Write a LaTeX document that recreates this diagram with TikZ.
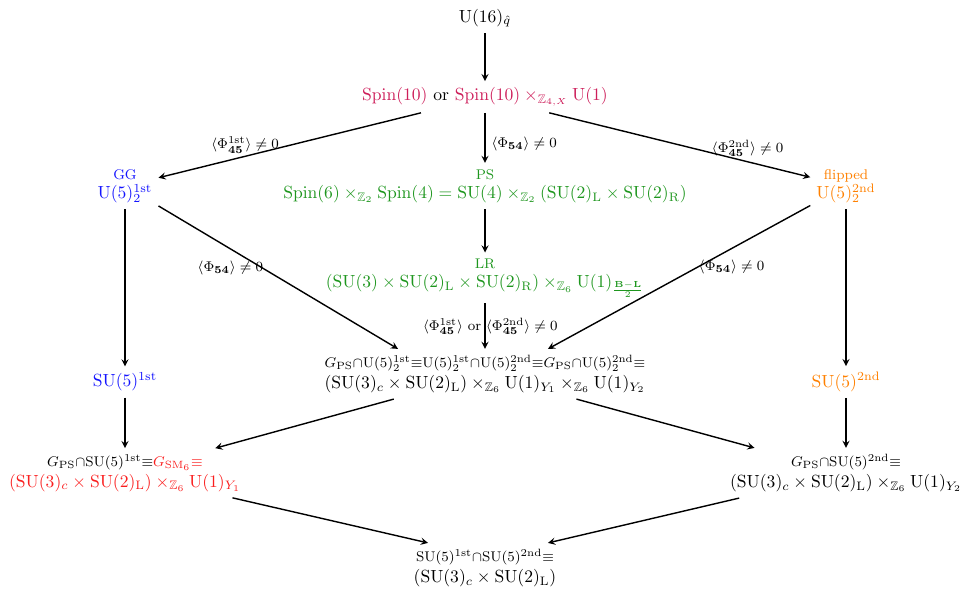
\documentclass[tikz,border=0pt]{standalone}
\usepackage{amsmath,amssymb}
\definecolor{spincol}{RGB}{205,30,90}
\definecolor{pscol}{RGB}{30,150,30}
\definecolor{ggcol}{RGB}{20,20,255}
\definecolor{flcol}{RGB}{255,128,0}
\definecolor{smcol}{RGB}{250,30,30}
\begin{document}
\begin{tikzpicture}[x=0.02cm,y=-0.02cm,every node/.style={align=center},
    lbl/.style={font=\footnotesize}]
      \useasboundingbox (0,0) rectangle (970,598);
      \draw
        (485,18) node (u16){$\mathrm{U}(16)_{\hat q}$}
        (485,97) node (spin){\textcolor{spincol}{$\mathrm{Spin}(10)$} or \textcolor{spincol}{$\mathrm{Spin}(10)\times_{\mathbb{Z}_{4,X}}\mathrm{U}(1)$}}
        (485,186) node[pscol] (ps){{\footnotesize PS}\\[-1pt] $\mathrm{Spin}(6)\times_{\mathbb{Z}_2}\mathrm{Spin}(4)=\mathrm{SU}(4)\times_{\mathbb{Z}_2}(\mathrm{SU}(2)_{\mathrm{L}}\times\mathrm{SU}(2)_{\mathrm{R}})$}
        (125,186) node[ggcol] (gg){{\footnotesize GG}\\[-1pt] $\mathrm{U}(5)_2^{\mathrm{1st}}$}
        (846,186) node[flcol] (fl){{\footnotesize flipped}\\[-1pt] $\mathrm{U}(5)_2^{\mathrm{2nd}}$}
        (485,278) node[pscol] (lr){{\footnotesize LR}\\[-1pt] $(\mathrm{SU}(3)\times\mathrm{SU}(2)_{\mathrm{L}}\times\mathrm{SU}(2)_{\mathrm{R}})\times_{\mathbb{Z}_6}\mathrm{U}(1)_{\frac{\mathbf{B-L}}{2}}$}
        (485,374) node (mid){{\footnotesize $G_{\mathrm{PS}}{\cap}\mathrm{U}(5)_2^{\mathrm{1st}}{\equiv}\mathrm{U}(5)_2^{\mathrm{1st}}{\cap}\mathrm{U}(5)_2^{\mathrm{2nd}}{\equiv}G_{\mathrm{PS}}{\cap}\mathrm{U}(5)_2^{\mathrm{2nd}}{\equiv}$}\\ $(\mathrm{SU}(3)_c\times\mathrm{SU}(2)_{\mathrm{L}})\times_{\mathbb{Z}_6}\mathrm{U}(1)_{Y_1}\times_{\mathbb{Z}_6}\mathrm{U}(1)_{Y_2}$}
        (125,382) node[ggcol] (su1){$\mathrm{SU}(5)^{\mathrm{1st}}$}
        (846,382) node[flcol] (su2){$\mathrm{SU}(5)^{\mathrm{2nd}}$}
        (125,473) node (sm1){{\footnotesize $G_{\mathrm{PS}}{\cap}\mathrm{SU}(5)^{\mathrm{1st}}{\equiv}$\textcolor{smcol}{$G_{\mathrm{SM}_6}{\equiv}$}}\\ \textcolor{smcol}{$(\mathrm{SU}(3)_c\times\mathrm{SU}(2)_{\mathrm{L}})\times_{\mathbb{Z}_6}\mathrm{U}(1)_{Y_1}$}}
        (846,473) node (sm2){{\footnotesize $G_{\mathrm{PS}}{\cap}\mathrm{SU}(5)^{\mathrm{2nd}}{\equiv}$}\\ $(\mathrm{SU}(3)_c\times\mathrm{SU}(2)_{\mathrm{L}})\times_{\mathbb{Z}_6}\mathrm{U}(1)_{Y_2}$}
        (485,568) node (bot){{\footnotesize $\mathrm{SU}(5)^{\mathrm{1st}}{\cap}\mathrm{SU}(5)^{\mathrm{2nd}}{\equiv}$}\\ $(\mathrm{SU}(3)_c\times\mathrm{SU}(2)_{\mathrm{L}})$};
      \begin{scope}[->,>=stealth,thick]
        \draw (u16) to (spin);
        \draw (spin) to node[lbl,right,pos=0.62] {$\langle\Phi_{\mathbf{54}}\rangle\neq0$} (ps);
        \draw (spin) to node[lbl,above,pos=0.67,yshift=-2pt] {$\langle\Phi^{\mathrm{1st}}_{\mathbf{45}}\rangle\neq0$} (gg);
        \draw (spin) to node[lbl,above,pos=0.76,yshift=-1pt] {$\langle\Phi^{\mathrm{2nd}}_{\mathbf{45}}\rangle\neq0$} (fl);
        \draw (ps) to (lr);
        \draw (lr) to node[lbl,xshift=3pt] {$\langle\Phi^{\mathrm{1st}}_{\mathbf{45}}\rangle$ or $\langle\Phi^{\mathrm{2nd}}_{\mathbf{45}}\rangle\neq0$} (mid);
        \draw (gg) to node[lbl,below,pos=0.3,yshift=-3pt] {$\langle\Phi_{\mathbf{54}}\rangle\neq0$} ([xshift=-1.74cm]mid.north);
        \draw (fl) to node[lbl,below,pos=0.3,yshift=-3pt] {$\langle\Phi_{\mathbf{54}}\rangle\neq0$} ([xshift=1.26cm]mid.north);
        \draw (gg) to (su1);
        \draw (fl) to (su2);
        \draw (su1) to (sm1);
        \draw (su2) to (sm2);
        \draw (mid) to (sm1);
        \draw (mid) to (sm2);
        \draw (sm1) to ([xshift=-1.14cm]bot.north);
        \draw (sm2) to ([xshift=1.26cm]bot.north);
      \end{scope}
    \end{tikzpicture}
\end{document}
